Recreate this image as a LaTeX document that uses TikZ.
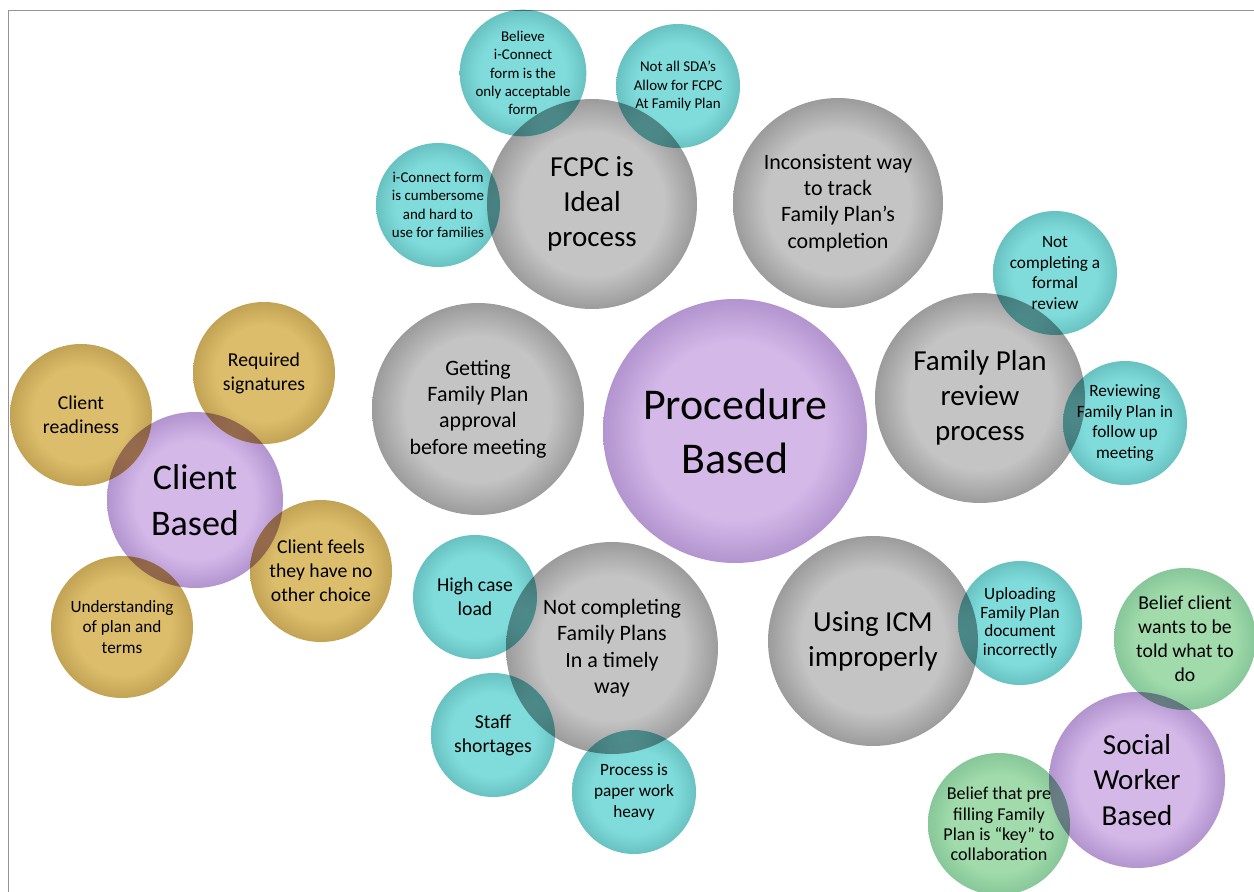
\documentclass[tikz,border=0pt]{standalone}
\usepackage{fontspec}
\setmainfont{Carlito}

% text sizes for the bubbles
\newcommand\szTitle{\fontsize{25}{30.7}\selectfont}
\newcommand\szBig{\fontsize{20.5}{26}\selectfont}
\newcommand\szMid{\fontsize{16.5}{20}\selectfont}
\newcommand\szText{\fontsize{12.5}{15}\selectfont}
\newcommand\szSmall{\fontsize{11.2}{13.6}\selectfont}
\newcommand\szFoot{\fontsize{9.8}{11.8}\selectfont}
\newcommand\szTiny{\fontsize{8.5}{10.4}\selectfont}

% light centre, darker rim
\newcommand\bubshade[3]{%
  \pgfdeclareradialshading{#1}{\pgfpoint{0bp}{0bp}}%
    {rgb(0bp)=(#2); rgb(17bp)=(#2); rgb(25bp)=(#3); rgb(50bp)=(#3)}}
\bubshade{graybub}{0.77,0.77,0.77}{0.61,0.61,0.61}
\bubshade{purplebub}{0.83,0.72,0.91}{0.70,0.58,0.81}
\bubshade{tealbub}{0.50,0.86,0.86}{0.41,0.76,0.76}
\bubshade{goldbub}{0.86,0.74,0.42}{0.76,0.64,0.33}
\bubshade{greenbub}{0.63,0.86,0.67}{0.53,0.78,0.60}

\begin{document}
\begin{tikzpicture}[x=0.2mm, y=-0.2mm,
  bubble/.style={circle, inner sep=0pt, align=center, text=black},
  dia/.style={minimum size=#1*0.2mm},
  hub/.style={bubble, shading=purplebub, dia=176},
  issue/.style={bubble, shading=graybub, dia=210},
  cause/.style={bubble, shading=tealbub, dia=124},
  clientcause/.style={bubble, shading=goldbub, dia=142},
  workercause/.style={bubble, shading=greenbub, dia=142}]
\clip (0,0) rectangle (1254,892);
\fill[white] (0,0) rectangle (1254,892);
\draw[black!42, line width=0.3mm] (8.5,892) -- (8.5,10.5) -- (1254,10.5);

\begin{scope}[blend mode=multiply]
% procedure based
\node[hub, dia=264, font=\szTitle] (proc) at (735,431) {Procedure\\Based};
\node[issue, font=\szMid] (fcpc) at (592,204) {FCPC is\\Ideal\\process};
\node[issue, font=\szText] (track) at (838,203) {Inconsistent way\\to track\\Family Plan’s\\completion};
\node[issue, font=\szMid] (review) at (980,398) {Family Plan\\review\\process};
\node[issue, dia=212, font=\szText] (approval) at (478,409) {Getting\\Family Plan\\approval\\before meeting};
\node[issue, dia=212, font=\szText] (timely) at (612,648) {Not completing\\Family Plans\\In a timely\\way};
\node[issue, font=\szMid] (icm) at (873,641) {Using ICM\\improperly};

\node[cause, font=\szTiny] (believe) at (523,73) {Believe\\i-Connect\\form is the\\only acceptable\\form};
\node[cause, font=\szTiny] (sda) at (678,86) {Not all SDA’s\\Allow for FCPC\\At Family Plan};
\node[cause, font=\szTiny] (cumber) at (438,205) {i-Connect form\\is cumbersome\\and hard to\\use for families};
\node[cause, font=\szFoot] (formal) at (1055,273) {Not\\completing a\\formal\\review};
\node[cause, font=\szFoot] (followup) at (1125,423) {Reviewing\\Family Plan in\\follow up\\meeting};
\node[cause, font=\szSmall] (caseload) at (475,597) {High case\\load};
\node[cause, font=\szSmall] (staff) at (493,735) {Staff\\shortages};
\node[cause, font=\szFoot] (paperwork) at (634,792) {Process is\\paper work\\heavy};
\node[cause, font=\fontsize{9.8}{10.5}\selectfont] (upload) at (1020,623) {Uploading\\Family Plan\\document\\incorrectly};

% client based
\node[hub, font=\szBig] (client) at (195,500) {Client\\Based};
\node[clientcause, font=\szSmall] (readiness) at (81,415) {Client\\readiness};
\node[clientcause, font=\szSmall] (signatures) at (264,373) {Required\\signatures};
\node[clientcause, font=\szSmall] (nochoice) at (321,571) {Client feels\\they have no\\other choice};
\node[clientcause, font=\szFoot] (terms) at (122,627) {Understanding\\of plan and\\terms};

% social worker based
\node[hub, font=\szMid] (social) at (1137,780) {Social\\Worker\\Based};
\node[workercause, font=\szSmall] (told) at (1185,639) {Belief client\\wants to be\\told what to\\do};
\node[workercause, font=\fontsize{10.3}{11.5}\selectfont] (prefill) at (999,824) {Belief that pre\\filling Family\\Plan is “key” to\\collaboration};
\end{scope}
\end{tikzpicture}
\end{document}
